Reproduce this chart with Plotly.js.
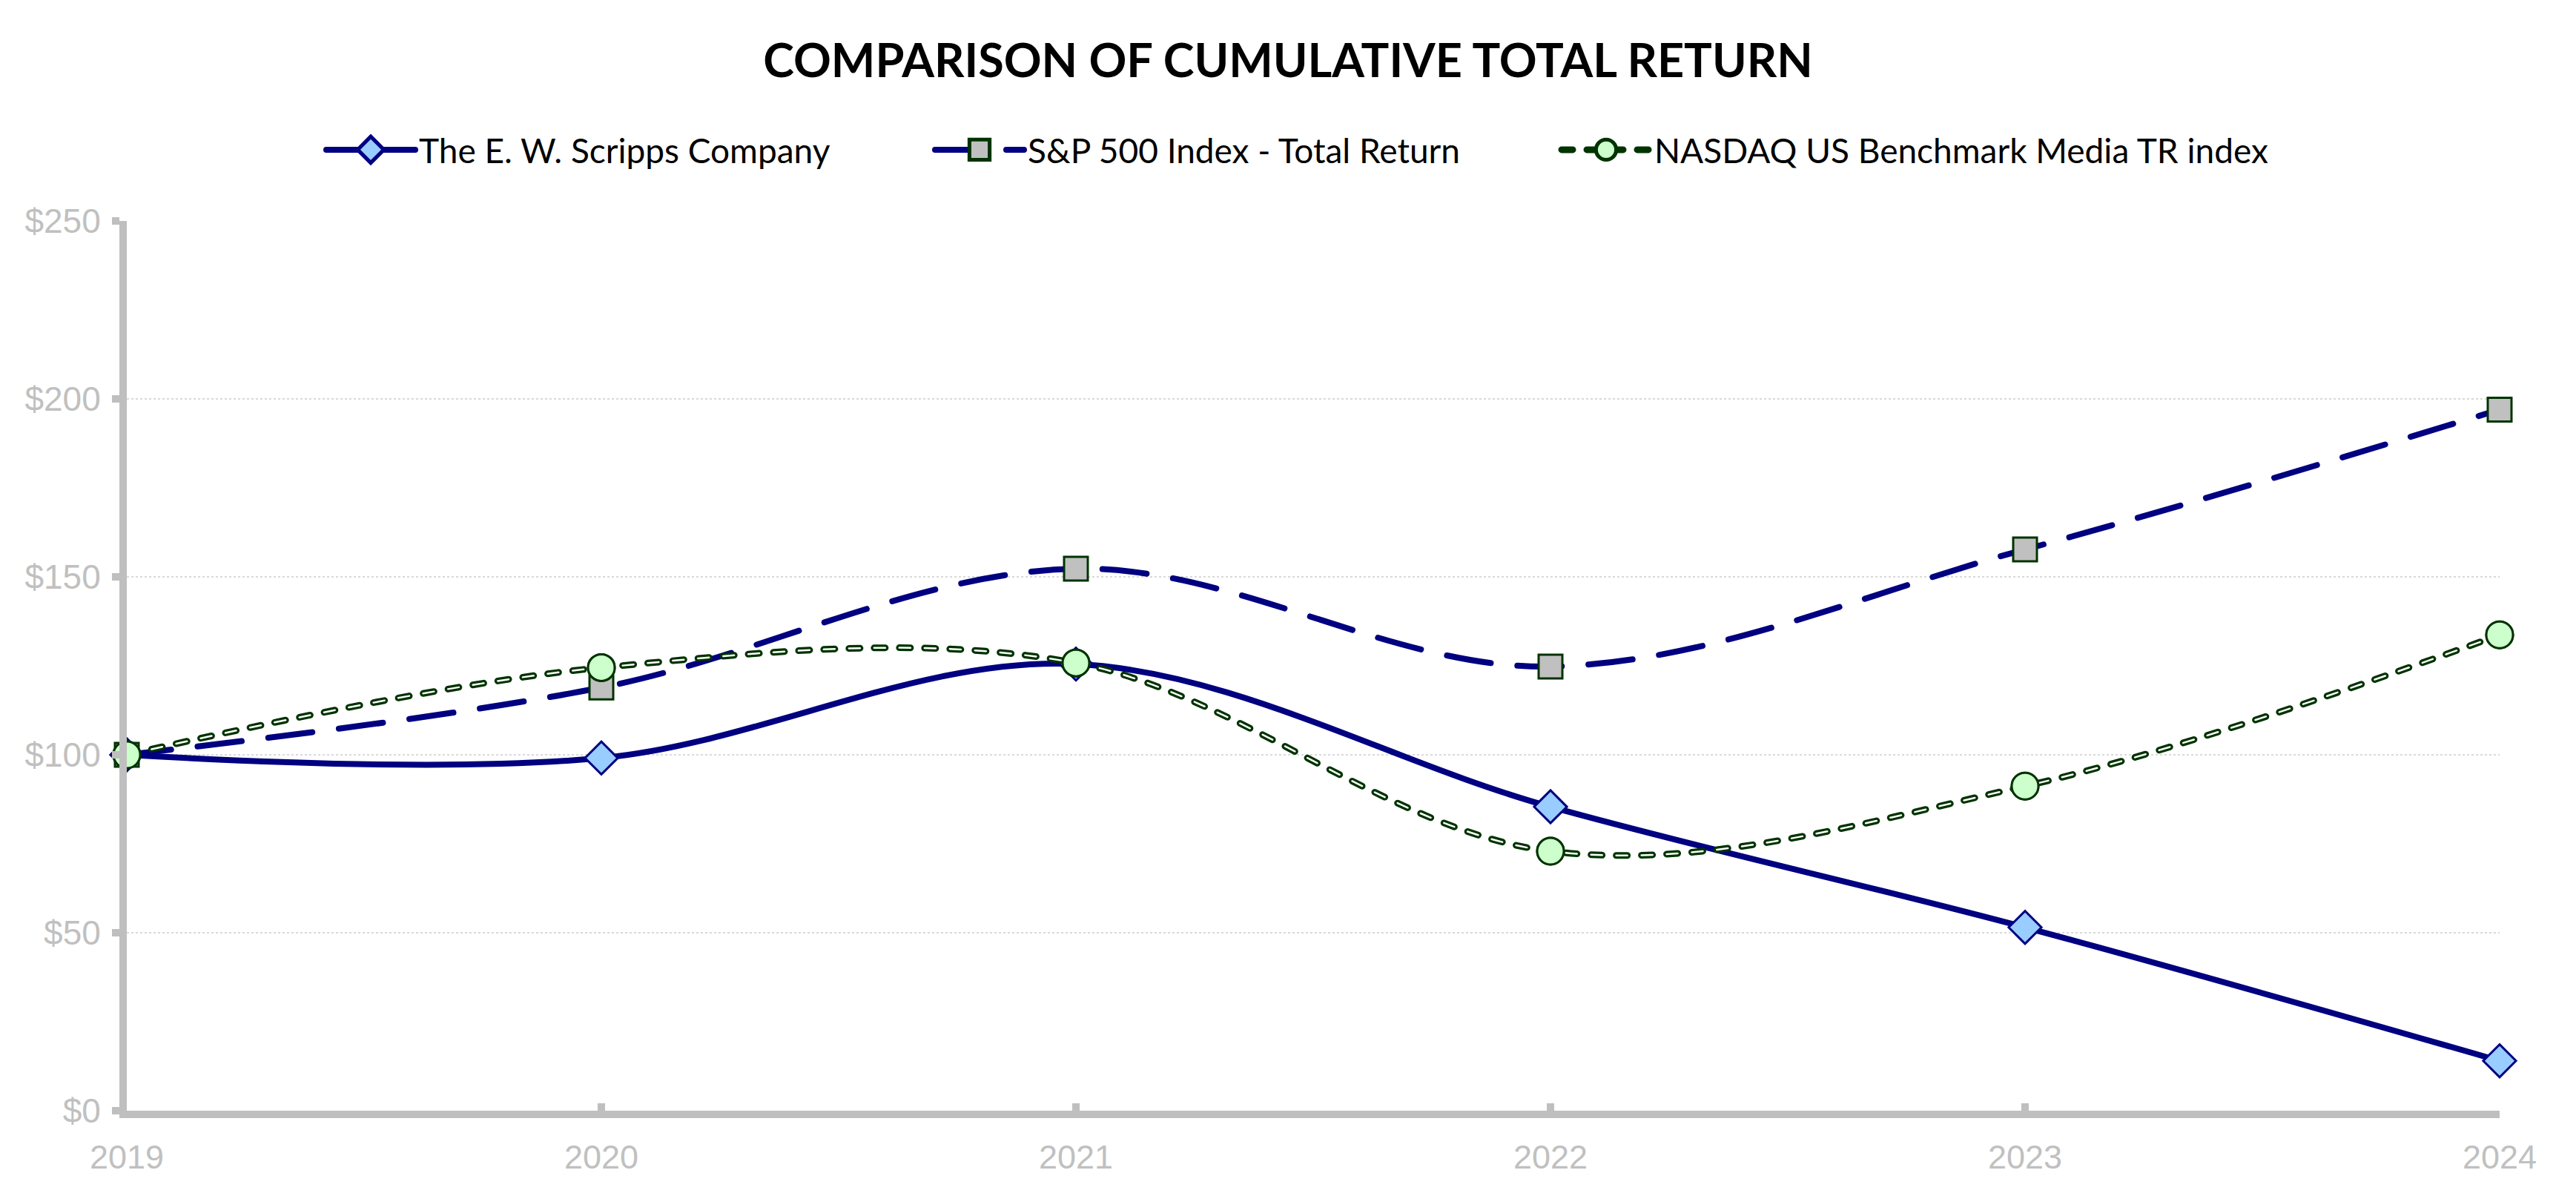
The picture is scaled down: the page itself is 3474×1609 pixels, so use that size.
<!DOCTYPE html>
<html>
<head>
<meta charset="utf-8">
<script src="https://cdn.plot.ly/plotly-3.0.1.min.js"></script>
<style>
	html, body { margin: 0; padding: 0; background: white; }
	#chart { width: 3474px; height: 1609px; }
</style>
</head>
<body>
<div id="chart"></div>
<script>
// years on the x axis
const years = [2019, 2020, 2021, 2022, 2023, 2024]

// cumulative total return, $100 invested in 2019
const scripps = [100, 99.1, 125.5, 85.4, 51.5, 14.0]
const sp500 = [100, 118.9, 152.3, 124.8, 157.7, 197.0]
const nasdaqMedia = [100, 124.5, 125.8, 72.9, 91.2, 133.7]

const yTicks = [0, 50, 100, 150, 200, 250]
const yTickLabels = ["$0", "$50", "$100", "$150", "$200", "$250"]

const navy = "#000080"
const darkGreen = "#003300"

var traces = [
	{
		name: "The E. W. Scripps Company",
		legend: "legend",
		x: years,
		y: scripps,
		type: "scatter",
		mode: "lines+markers",
		line: { color: navy, width: 8, shape: "spline" },
		marker: { symbol: "diamond", size: 34, color: "#99ccff", line: { color: navy, width: 3 } },
		cliponaxis: false
	},
	{
		name: "S&P 500 Index - Total Return",
		legend: "legend2",
		x: years,
		y: sp500,
		type: "scatter",
		mode: "lines+markers",
		line: { color: navy, width: 8, shape: "spline", dash: "60px,36px" },
		marker: { symbol: "square", size: 32, color: "#c0c0c0", line: { color: darkGreen, width: 3 } },
		cliponaxis: false
	},
	{
		name: "NASDAQ US Benchmark Media TR index",
		legend: "legend3",
		x: years,
		y: nasdaqMedia,
		type: "scatter",
		mode: "lines+markers",
		line: { color: darkGreen, width: 9, shape: "spline", dash: "15px,19px" },
		marker: { symbol: "circle", size: 36, color: "#ccffcc", line: { color: darkGreen, width: 3 } },
		cliponaxis: false
	},
	// light core of the double line
	{
		x: years,
		y: nasdaqMedia,
		type: "scatter",
		mode: "lines",
		line: { color: "#ffffff", width: 2.5, shape: "spline", dash: "15px,19px" },
		showlegend: false,
		hoverinfo: "skip",
		cliponaxis: false
	},
	// circles again so they sit above the core line
	{
		x: years,
		y: nasdaqMedia,
		type: "scatter",
		mode: "markers",
		marker: { symbol: "circle", size: 36, color: "#ccffcc", line: { color: darkGreen, width: 3 } },
		showlegend: false,
		hoverinfo: "skip",
		cliponaxis: false
	}
]

function legendAt(px) {
	return {
		orientation: "h",
		xref: "container",
		yref: "container",
		x: px / 3474,
		xanchor: "left",
		y: 1 - 202 / 1609,
		yanchor: "middle",
		itemwidth: 120,
		font: { family: "Lato, 'Open Sans', sans-serif", size: 46, color: "#000000" },
		bgcolor: "rgba(0,0,0,0)"
	}
}

var layout = {
	width: 3474,
	height: 1609,
	margin: { l: 171, r: 103, t: 298, b: 111, pad: 0 },
	paper_bgcolor: "white",
	plot_bgcolor: "white",
	showlegend: true,
	title: {
		text: "<b>COMPARISON OF CUMULATIVE TOTAL RETURN</b>",
		font: { family: "Lato, 'Open Sans', sans-serif", size: 63, color: "#000000" },
		x: 0.5,
		xref: "container",
		xanchor: "center",
		y: 1 - 82 / 1609,
		yref: "container",
		yanchor: "middle"
	},
	legend: legendAt(435),
	legend2: legendAt(1256),
	legend3: legendAt(2101),
	xaxis: {
		range: [2019, 2024],
		tickvals: years,
		ticktext: years.map(String),
		showgrid: false,
		zeroline: false,
		showline: true,
		linecolor: "#bfbfbf",
		linewidth: 10,
		ticks: "inside",
		ticklen: 10,
		tickwidth: 10,
		tickcolor: "#bfbfbf",
		tickfont: { family: "'Liberation Sans', Arial, sans-serif", size: 45, color: "#c0c0c0" },
		ticklabelstandoff: 14,
		fixedrange: true
	},
	yaxis: {
		range: [0, 250],
		tickvals: yTicks,
		ticktext: yTickLabels,
		showgrid: true,
		gridcolor: "#d9d9d9",
		gridwidth: 1.5,
		griddash: "dot",
		zeroline: false,
		showline: true,
		linecolor: "#bfbfbf",
		linewidth: 10,
		ticks: "outside",
		ticklen: 10,
		tickwidth: 10,
		tickcolor: "#bfbfbf",
		tickfont: { family: "'Liberation Sans', Arial, sans-serif", size: 46, color: "#c0c0c0" },
		ticklabelstandoff: 6,
		fixedrange: true
	}
}

var config = {
	displayModeBar: false,
	staticPlot: true
}

Plotly.newPlot("chart", traces, layout, config).then(function (gd) {
	// round dash ends, like the original
	gd.querySelectorAll(".js-line, .legendlines path").forEach(function (p) {
		p.style.strokeLinecap = "round"
		p.style.strokeLinejoin = "round"
	})
	// legend markers are capped at 16px by plotly, blow them up a bit
	gd.querySelectorAll(".legendpoints .scatterpts").forEach(function (p) {
		var t = p.getAttribute("transform") || ""
		p.setAttribute("transform", t + " scale(1.7)")
	})
})
</script>
</body>
</html>
